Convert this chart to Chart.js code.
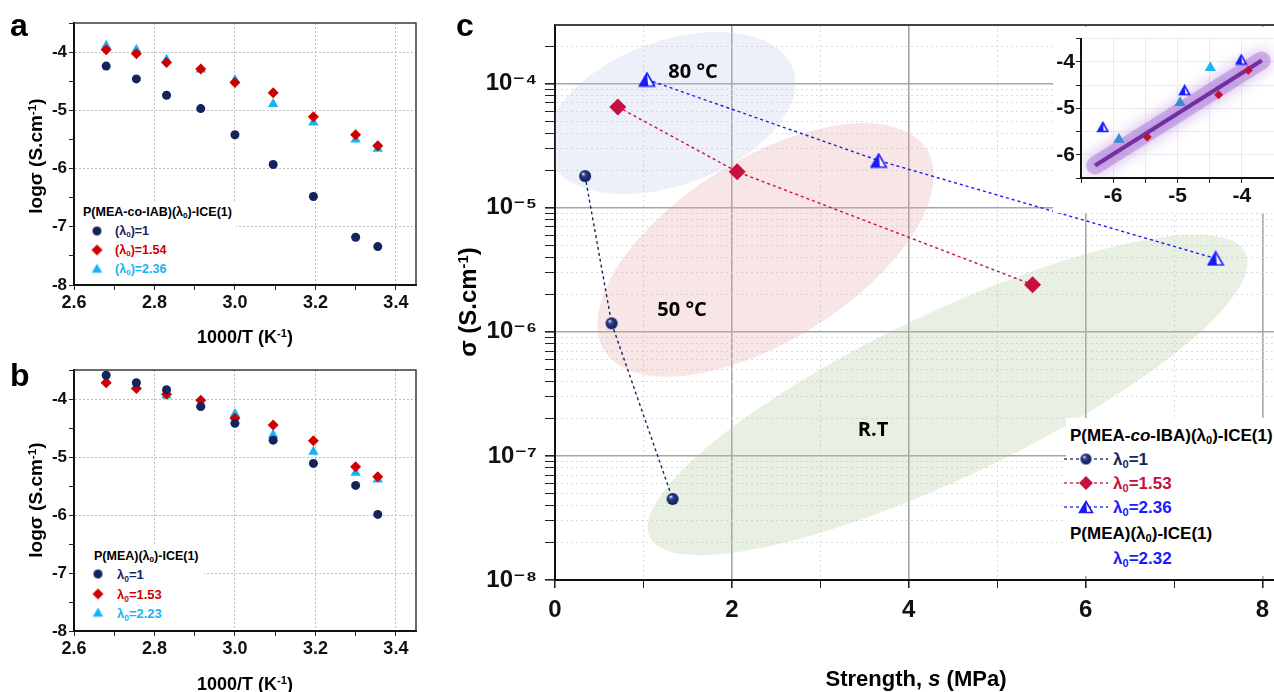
<!DOCTYPE html>
<html lang="en">
<head>
  <meta charset="UTF-8" />
  <title>Conductivity vs temperature and strength</title>
  <script src="https://cdn.jsdelivr.net/npm/chart.js"></script>
  <style>
    * { box-sizing: border-box; }
    body { margin: 0; background: #fff; font-family: "Liberation Sans", Arial, sans-serif; }
    #fig { position: relative; width: 1274px; height: 692px; overflow: hidden; background: #fff; }
    .plot, .white, .t { position: absolute; }
    .white { background: #fff; }
    .t { font-weight: bold; color: #000; white-space: nowrap; line-height: 1; }
    .lv { transform: translateY(-50%); }
    .ctr { transform: translate(-50%, -50%); }
    .rot { transform: translate(-50%, -50%) rotate(-90deg); }
    .mk { position: absolute; transform: translate(-50%, -50%); }
    .mk canvas { display: block; }
    sup { font-size: 62%; vertical-align: 0; position: relative; top: -0.55em; }
    sub { font-size: 65%; vertical-align: 0; position: relative; top: 0.3em; }
    .cal { font-family: "Open Sans", "Liberation Sans", sans-serif; font-weight: 700; }
  </style>
</head>
<body>
<div id="fig">
  <div class="plot" style="left:0;top:0;width:420px;height:345px"><canvas id="chartA"></canvas></div>
  <div class="plot" style="left:0;top:350px;width:420px;height:342px"><canvas id="chartB"></canvas></div>
  <div class="plot" style="left:440px;top:0;width:834px;height:692px"><canvas id="chartC"></canvas></div>
  <div class="white" style="left:1053px;top:27px;width:221px;height:186px"></div>
  <div class="plot" style="left:1040px;top:25px;width:234px;height:190px"><canvas id="chartIn"></canvas></div>

  <!-- panel letters -->
  <div class="t" style="left:10px;top:9px;font-size:32px">a</div>
  <div class="t" style="left:10px;top:359px;font-size:32px">b</div>
  <div class="t" style="left:456px;top:9px;font-size:32px">c</div>

  <!-- panel a titles + legend -->
  <div class="t rot" style="left:35px;top:156px;font-size:19px">logσ (S.cm<sup>-1</sup>)</div>
  <div class="t ctr" style="left:245px;top:337px;font-size:18px">1000/T (K<sup>-1</sup>)</div>
  <div class="white" style="left:76px;top:201px;width:160px;height:82px"></div>
  <div class="t lv" style="left:83px;top:212px;font-size:12.5px">P(MEA-co-IAB)(λ<sub>0</sub>)-ICE(1)</div>
  <div class="mk" id="mkA1" style="left:97px;top:231px"></div>
  <div class="mk" id="mkA2" style="left:97px;top:250px"></div>
  <div class="mk" id="mkA3" style="left:97px;top:269px"></div>
  <div class="t lv" style="left:115px;top:231px;font-size:12.5px;color:#14235c">(λ<sub>0</sub>)=1</div>
  <div class="t lv" style="left:115px;top:250px;font-size:12.5px;color:#d00000">(λ<sub>0</sub>)=1.54</div>
  <div class="t lv" style="left:115px;top:269px;font-size:12.5px;color:#16b4f2">(λ<sub>0</sub>)=2.36</div>

  <!-- panel b titles + legend -->
  <div class="t rot" style="left:35px;top:500px;font-size:19px">logσ (S.cm<sup>-1</sup>)</div>
  <div class="t ctr" style="left:245px;top:684px;font-size:18px">1000/T (K<sup>-1</sup>)</div>
  <div class="white" style="left:76px;top:545px;width:128px;height:84px"></div>
  <div class="t lv" style="left:94px;top:556px;font-size:12.5px">P(MEA)(λ<sub>0</sub>)-ICE(1)</div>
  <div class="mk" id="mkB1" style="left:98px;top:574px"></div>
  <div class="mk" id="mkB2" style="left:98px;top:594px"></div>
  <div class="mk" id="mkB3" style="left:98px;top:613px"></div>
  <div class="t lv" style="left:117px;top:574px;font-size:13px;color:#14235c">λ<sub>0</sub>=1</div>
  <div class="t lv" style="left:117px;top:594px;font-size:13px;color:#d00000">λ<sub>0</sub>=1.53</div>
  <div class="t lv" style="left:117px;top:613px;font-size:13px;color:#16b4f2">λ<sub>0</sub>=2.23</div>

  <!-- panel c titles, region labels, legend -->
  <div class="t rot" style="left:468px;top:302px;font-size:24px">σ (S.cm<sup>-1</sup>)</div>
  <div class="t ctr" style="left:916px;top:679px;font-size:22px">Strength, <i>s</i> (MPa)</div>
  <div class="t ctr cal" style="left:693px;top:71px;font-size:20px">80 °C</div>
  <div class="t ctr cal" style="left:682px;top:309px;font-size:20px">50 °C</div>
  <div class="t ctr cal" style="left:873px;top:429px;font-size:20px">R.T</div>
  <div class="white" style="left:1066px;top:418px;width:208px;height:158px"></div>
  <div class="t lv" style="left:1070px;top:435px;font-size:17px">P(MEA-<i>co</i>-IBA)(λ<sub>0</sub>)-ICE(1)</div>
  <div class="mk" id="mkC1" style="left:1086px;top:459px"></div>
  <div class="mk" id="mkC2" style="left:1086px;top:483px"></div>
  <div class="mk" id="mkC3" style="left:1086px;top:507px"></div>
  <div class="t lv" style="left:1113px;top:459px;font-size:17px;color:#16255f">λ<sub>0</sub>=1</div>
  <div class="t lv" style="left:1113px;top:483px;font-size:17px;color:#c8103e">λ<sub>0</sub>=1.53</div>
  <div class="t lv" style="left:1113px;top:507px;font-size:17px;color:#1a1aff">λ<sub>0</sub>=2.36</div>
  <div class="t lv" style="left:1070px;top:533px;font-size:17px">P(MEA)(λ<sub>0</sub>)-ICE(1)</div>
  <div class="t lv" style="left:1113px;top:558px;font-size:17px;color:#1a1aff">λ<sub>0</sub>=2.32</div>
</div>

<script>
  // ---- data ----
  const invTemp = [2.68, 2.755, 2.83, 2.915, 3.0, 3.095, 3.195, 3.30, 3.355];

  // panel a: P(MEA-co-IAB)
  const aLam1 = [-4.24, -4.46, -4.74, -4.97, -5.42, -5.93, -6.48, -7.18, -7.34];
  const aLam154 = [-3.96, -4.03, -4.18, -4.29, -4.52, -4.70, -5.11, -5.42, -5.61];
  const aLam236 = [-3.89, -3.96, -4.13, -4.30, -4.48, -4.89, -5.21, -5.50, -5.66];

  // panel b: P(MEA)
  const bLam1 = [-3.59, -3.72, -3.84, -4.13, -4.42, -4.71, -5.11, -5.49, -5.99];
  const bLam153 = [-3.72, -3.82, -3.92, -4.02, -4.33, -4.45, -4.72, -5.17, -5.34];
  const bLam223 = [-3.69, -3.78, -3.94, -4.10, -4.26, -4.62, -4.91, -5.27, -5.39];

  // panel c: conductivity vs strength
  const cS1 = [0.34, 0.64, 1.33];
  const cSig1 = [1.8e-5, 1.17e-6, 4.5e-8];
  const cS153 = [0.71, 2.06, 5.40];
  const cSig153 = [6.5e-5, 1.95e-5, 2.4e-6];
  const cS236 = [1.04, 3.66, 7.47];
  const cSig236 = [1.08e-4, 2.4e-5, 3.9e-6];

  // inset (log-log)
  const inHollowX = [-6.16, -4.89, -4.01];
  const inHollowY = [-5.40, -4.61, -3.95];
  const inFilledX = [-5.91, -4.96, -4.49];
  const inFilledY = [-5.67, -4.88, -4.13];
  const inDiamondX = [-5.47, -4.36, -3.90];
  const inDiamondY = [-5.62, -4.71, -4.18];
  const fitX = [-6.28, -3.69];
  const fitY = [-6.23, -3.97];

  // ticks
  const abXTicks = [2.6, 2.7, 2.8, 2.9, 3.0, 3.1, 3.2, 3.3, 3.4];
  const abYTicks = [-8, -7.5, -7, -6.5, -6, -5.5, -5, -4.5, -4, -3.5];
  const cXTicks = [0, 1, 2, 3, 4, 5, 6, 7, 8];
  const cDecades = [-8, -7, -6, -5, -4];
  const cMantissas = [1, 2, 3, 4, 5, 6, 7, 8, 9];
  const inTicks = [-6.5, -6, -5.5, -5, -4.5, -4, -3.5];

  const C_MAX = 2.97e-4;
  const cYTicks = [];
  cDecades.forEach(e => cMantissas.forEach(m => {
    const v = Number((m * Math.pow(10, e)).toPrecision(3));
    if (v <= C_MAX) cYTicks.push(v);
  }));

  Chart.defaults.font.family = '"Liberation Sans", Arial, "DejaVu Sans", sans-serif';
  Chart.defaults.color = '#111';
  Chart.defaults.animation = false;

  const pts = (xs, ys) => xs.map((x, i) => ({ x: x, y: ys[i] }));
  const isMult = (v, step) => Math.abs(v / step - Math.round(v / step)) < 1e-6;
  const NONE = 'rgba(0,0,0,0)';
  // keep the plot box where the figure has it: no extra room for edge labels
  const noSidePad = s => { s.paddingLeft = 0; s.paddingRight = 0; };

  // ---- marker images ----
  function sphereImg(r) {
    const cv = document.createElement('canvas');
    cv.width = cv.height = 2 * r + 2;
    const g = cv.getContext('2d');
    const c = r + 1;
    const grad = g.createRadialGradient(c - r * 0.35, c - r * 0.4, r * 0.08, c, c, r);
    grad.addColorStop(0, '#d8e0f5');
    grad.addColorStop(0.3, '#2c4290');
    grad.addColorStop(1, '#0c1a4c');
    g.fillStyle = grad;
    g.beginPath(); g.arc(c, c, r, 0, Math.PI * 2); g.fill();
    return cv;
  }
  function halfTriImg(w, color) {
    const h = Math.round(w * 0.86);
    const cv = document.createElement('canvas');
    cv.width = w + 3; cv.height = h + 3;
    const g = cv.getContext('2d');
    const x0 = 1.5, y0 = 1.5, cx = x0 + w / 2;
    const tri = () => { g.beginPath(); g.moveTo(cx, y0); g.lineTo(x0 + w, y0 + h); g.lineTo(x0, y0 + h); g.closePath(); };
    tri(); g.fillStyle = '#fff'; g.fill();
    g.beginPath(); g.moveTo(cx, y0); g.lineTo(cx + w * 0.08, y0 + h); g.lineTo(x0, y0 + h); g.closePath();
    g.fillStyle = color; g.fill();
    tri(); g.strokeStyle = color; g.lineWidth = 1.6; g.stroke();
    return cv;
  }
  function shapeImg(kind, color, r) {
    const size = Math.ceil(r * 2 + 4);
    const cv = document.createElement('canvas');
    cv.width = cv.height = size;
    const g = cv.getContext('2d');
    const c = size / 2;
    g.fillStyle = color;
    g.beginPath();
    if (kind === 'circle') g.arc(c, c, r, 0, Math.PI * 2);
    if (kind === 'diamond') { g.moveTo(c, c - r); g.lineTo(c + r, c); g.lineTo(c, c + r); g.lineTo(c - r, c); g.closePath(); }
    if (kind === 'triangle') { g.moveTo(c, c - r); g.lineTo(c + r * 0.95, c + r * 0.7); g.lineTo(c - r * 0.95, c + r * 0.7); g.closePath(); }
    g.fill();
    return cv;
  }
  function lineSample(img, color) {
    const cv = document.createElement('canvas');
    cv.width = 44; cv.height = 18;
    const g = cv.getContext('2d');
    g.strokeStyle = color; g.lineWidth = 1.3; g.setLineDash([3, 3]);
    g.beginPath(); g.moveTo(0, 9); g.lineTo(44, 9); g.stroke();
    g.drawImage(img, 22 - img.width / 2, 9 - img.height / 2);
    return cv;
  }

  const navy = '#14235c', red = '#d00000', cyan = '#16b4f2';
  const cNavy = '#16255f', cRed = '#c8103e', cBlue = '#1a1aff';

  document.getElementById('mkA1').appendChild(shapeImg('circle', navy, 4.5));
  document.getElementById('mkA2').appendChild(shapeImg('diamond', red, 5.5));
  document.getElementById('mkA3').appendChild(shapeImg('triangle', cyan, 5.5));
  document.getElementById('mkB1').appendChild(shapeImg('circle', navy, 4.5));
  document.getElementById('mkB2').appendChild(shapeImg('diamond', red, 5.5));
  document.getElementById('mkB3').appendChild(shapeImg('triangle', cyan, 5.5));

  const sphere = sphereImg(6);
  const halfTri = halfTriImg(15, cBlue);
  document.getElementById('mkC1').appendChild(lineSample(sphereImg(5.5), cNavy));
  document.getElementById('mkC2').appendChild(lineSample(shapeImg('diamond', cRed, 7), cRed));
  document.getElementById('mkC3').appendChild(lineSample(halfTriImg(13, cBlue), cBlue));

  // ---- plugins ----
  const framePlugin = {
    id: 'frame',
    afterDraw(chart, args, opts) {
      const { ctx, chartArea: a } = chart;
      ctx.save();
      ctx.strokeStyle = opts.color || '#333';
      ctx.lineWidth = opts.width || 1.5;
      ctx.beginPath();
      ctx.moveTo(a.left, a.top);
      ctx.lineTo(a.right, a.top);
      if (opts.right !== false) ctx.lineTo(a.right, a.bottom);
      ctx.stroke();
      ctx.restore();
    }
  };

  // shaded temperature regions in panel c (centre in data units, radii in px)
  const regions = [
    { s: 1.31, sigma: 5.8e-5, rx: 130, ry: 72, angle: -20, fill: 'rgba(180,192,232,0.24)' },
    { s: 2.38, sigma: 4.57e-6, rx: 190, ry: 91, angle: -32, fill: 'rgba(230,160,160,0.28)' },
    { s: 4.44, sigma: 3.1e-7, rx: 330, ry: 82, angle: -25.5, fill: 'rgba(170,200,150,0.28)' }
  ];
  const regionPlugin = {
    id: 'regions',
    beforeDatasetsDraw(chart) {
      const { ctx, chartArea: a, scales: { x, y } } = chart;
      ctx.save();
      ctx.beginPath();
      ctx.rect(a.left, a.top, a.right - a.left, a.bottom - a.top);
      ctx.clip();
      regions.forEach(r => {
        ctx.beginPath();
        ctx.ellipse(x.getPixelForValue(r.s), y.getPixelForValue(r.sigma), r.rx, r.ry, r.angle * Math.PI / 180, 0, Math.PI * 2);
        ctx.fillStyle = r.fill;
        ctx.fill();
      });
      ctx.restore();
    }
  };

  const glowPlugin = {
    id: 'glow',
    beforeDatasetDraw(chart, args) {
      if (chart.data.datasets[args.index].label !== 'glow') return;
      const ctx = chart.ctx;
      ctx.save();
      ctx.shadowColor = 'rgba(140,70,200,0.9)';
      ctx.shadowBlur = 16;
    },
    afterDatasetDraw(chart, args) {
      if (chart.data.datasets[args.index].label !== 'glow') return;
      chart.ctx.restore();
    }
  };

  // ---- panels a and b ----
  function tempChart(id, s1, s2, s3, topPad, xHeight) {
    return new Chart(document.getElementById(id), {
      type: 'scatter',
      data: {
        datasets: [
          { data: pts(invTemp, s1), pointStyle: 'circle', pointRadius: 4.5, backgroundColor: navy, borderWidth: 0 },
          { data: pts(invTemp, s2), pointStyle: 'rectRot', pointRadius: 5.5, backgroundColor: red, borderWidth: 0 },
          { data: pts(invTemp, s3), pointStyle: 'triangle', pointRadius: 6, backgroundColor: cyan, borderWidth: 0 }
        ]
      },
      options: {
        responsive: true,
        maintainAspectRatio: false,
        events: [],
        layout: { autoPadding: false, padding: { top: topPad, right: 4, left: 0, bottom: 0 } },
        scales: {
          x: {
            type: 'linear', min: 2.6, max: 3.45,
            afterBuildTicks: s => { s.ticks = abXTicks.map(v => ({ value: v })); },
            afterFit: s => { s.height = xHeight; noSidePad(s); },
            ticks: {
              autoSkip: false, maxRotation: 0, padding: 2,
              font: { size: 18, weight: 'bold' }, color: '#111',
              callback: v => isMult(v, 0.2) ? v.toFixed(1) : ''
            },
            grid: {
              color: c => (c.tick && isMult(c.tick.value, 0.2) && c.tick.value > 2.61) ? '#bdbdbd' : NONE,
              tickColor: '#222', tickLength: 5, lineWidth: 1
            },
            border: { color: '#111', width: 2, dash: [2, 2] }
          },
          y: {
            type: 'linear', min: -8, max: -3.5,
            afterBuildTicks: s => { s.ticks = abYTicks.map(v => ({ value: v })); },
            afterFit: s => { s.width = 74; },
            ticks: {
              autoSkip: false, padding: 2,
              font: { size: 17, weight: 'bold' }, color: '#111',
              callback: v => isMult(v, 1) ? String(v) : ''
            },
            grid: {
              color: c => (c.tick && isMult(c.tick.value, 1) && c.tick.value > -7.9) ? '#bdbdbd' : NONE,
              tickColor: '#222', tickLength: 5, lineWidth: 1
            },
            border: { color: '#111', width: 2, dash: [2, 2] }
          }
        },
        plugins: { legend: { display: false }, tooltip: { enabled: false }, frame: { color: '#3a3a3a', width: 1.5 } }
      },
      plugins: [framePlugin]
    });
  }
  tempChart('chartA', aLam1, aLam154, aLam236, 23, 60);
  tempChart('chartB', bLam1, bLam153, bLam223, 20, 61);

  // ---- panel c ----
  const supMap = { '-': '⁻', '0': '⁰', '1': '¹', '2': '²', '3': '³', '4': '⁴', '5': '⁵', '6': '⁶', '7': '⁷', '8': '⁸', '9': '⁹' };
  const isPow10 = v => Math.abs(Math.log10(v) - Math.round(Math.log10(v))) < 1e-6;
  const powLabel = v => '10' + String(Math.round(Math.log10(v))).split('').map(ch => supMap[ch]).join('');

  new Chart(document.getElementById('chartC'), {
    type: 'scatter',
    data: {
      datasets: [
        { label: 'λ0=1', data: pts(cS1, cSig1), showLine: true, borderColor: cNavy, borderWidth: 1.4, borderDash: [3, 3],
          pointStyle: sphere, pointRadius: 6 },
        { label: 'λ0=1.53', data: pts(cS153, cSig153), showLine: true, borderColor: cRed, borderWidth: 1.4, borderDash: [3, 3],
          pointStyle: 'rectRot', pointRadius: 8.5, backgroundColor: cRed, pointBorderWidth: 0 },
        { label: 'λ0=2.36', data: pts(cS236, cSig236), showLine: true, borderColor: cBlue, borderWidth: 1.4, borderDash: [3, 3],
          pointStyle: halfTri, pointRadius: 7 }
      ]
    },
    options: {
      responsive: true,
      maintainAspectRatio: false,
      events: [],
      layout: { autoPadding: false, padding: { top: 25, right: 0, left: 0, bottom: 0 } },
      scales: {
        x: {
          type: 'linear', min: 0, max: 8.13,
          afterBuildTicks: s => { s.ticks = cXTicks.map(v => ({ value: v })); },
          afterFit: s => { s.height = 112; noSidePad(s); },
          ticks: {
            autoSkip: false, maxRotation: 0, padding: 8,
            font: { size: 24, weight: 'bold' }, color: '#111',
            callback: v => v % 2 === 0 ? String(v) : ''
          },
          grid: {
            color: c => !c.tick || c.tick.value === 0 ? NONE : (c.tick.value % 2 === 0 ? '#a6a6a6' : '#d9d9d9'),
            lineWidth: c => c.tick && c.tick.value % 2 === 0 ? 1.6 : 1,
            tickColor: '#222', tickLength: 8
          },
          border: { color: '#111', width: 2, dash: c => (c.tick && c.tick.value % 2 !== 0) ? [2, 3] : [] }
        },
        y: {
          type: 'logarithmic', min: 1e-8, max: C_MAX,
          afterBuildTicks: s => { s.ticks = cYTicks.map(v => ({ value: v, major: isPow10(v) })); },
          afterFit: s => { s.width = 115; },
          ticks: {
            autoSkip: false, padding: 8,
            font: { size: 24, weight: 'bold' }, color: '#111',
            callback: v => isPow10(v) ? powLabel(v) : ''
          },
          grid: {
            color: c => !c.tick || c.tick.value <= 1.01e-8 ? NONE : (isPow10(c.tick.value) ? '#a6a6a6' : '#dcdcdc'),
            lineWidth: c => c.tick && isPow10(c.tick.value) ? 1.6 : 1,
            tickColor: '#222', tickLength: 10
          },
          border: { color: '#111', width: 2, dash: c => (c.tick && !isPow10(c.tick.value)) ? [2, 3] : [] }
        }
      },
      plugins: { legend: { display: false }, tooltip: { enabled: false }, frame: { color: '#444', width: 2, right: false } }
    },
    plugins: [regionPlugin, framePlugin]
  });

  // ---- inset ----
  new Chart(document.getElementById('chartIn'), {
    type: 'scatter',
    data: {
      datasets: [
        { data: pts(inHollowX, inHollowY), pointStyle: halfTriImg(10, '#1a1aff'), pointRadius: 5, order: 0 },
        { data: pts(inFilledX, inFilledY), pointStyle: 'triangle', pointRadius: 6.5,
          backgroundColor: ['#3a8ad6', '#3a8ad6', '#1cb8f2'], pointBorderWidth: 0, order: 0 },
        { data: pts(inDiamondX, inDiamondY), pointStyle: 'rectRot', pointRadius: 4.5, backgroundColor: '#c0102f', pointBorderWidth: 0, order: 0 },
        { label: 'fit', data: pts(fitX, fitY), showLine: true, pointRadius: 0, borderColor: '#7030a0', borderWidth: 4, order: 1 },
        { label: 'glow', data: pts(fitX, fitY), showLine: true, pointRadius: 0, borderColor: 'rgba(165,110,215,0.45)',
          borderWidth: 18, borderCapStyle: 'round', order: 2 }
      ]
    },
    options: {
      responsive: true,
      maintainAspectRatio: false,
      events: [],
      layout: { autoPadding: false, padding: { top: 4, right: 0, left: 0, bottom: 0 } },
      scales: {
        x: {
          type: 'linear', min: -6.5, max: -3.5,
          afterBuildTicks: s => { s.ticks = inTicks.map(v => ({ value: v })); },
          afterFit: s => { s.height = 37; noSidePad(s); },
          ticks: {
            autoSkip: false, maxRotation: 0, padding: 1,
            font: { size: 21, weight: 'bold' }, color: '#111',
            callback: v => isMult(v, 1) ? String(v) : ''
          },
          grid: { color: c => c.tick && c.tick.value > -6.45 ? '#ececec' : NONE, tickColor: '#222', tickLength: 5 },
          border: { color: '#111', width: 2 }
        },
        y: {
          type: 'linear', min: -6.5, max: -3.5,
          afterBuildTicks: s => { s.ticks = inTicks.map(v => ({ value: v })); },
          afterFit: s => { s.width = 41; },
          ticks: {
            autoSkip: false, padding: 1,
            font: { size: 21, weight: 'bold' }, color: '#111',
            callback: v => isMult(v, 1) ? String(v) : ''
          },
          grid: { color: c => c.tick && c.tick.value > -6.45 ? '#ececec' : NONE, tickColor: '#222', tickLength: 5 },
          border: { color: '#111', width: 2 }
        }
      },
      plugins: { legend: { display: false }, tooltip: { enabled: false } }
    },
    plugins: [glowPlugin]
  });
</script>
</body>
</html>
